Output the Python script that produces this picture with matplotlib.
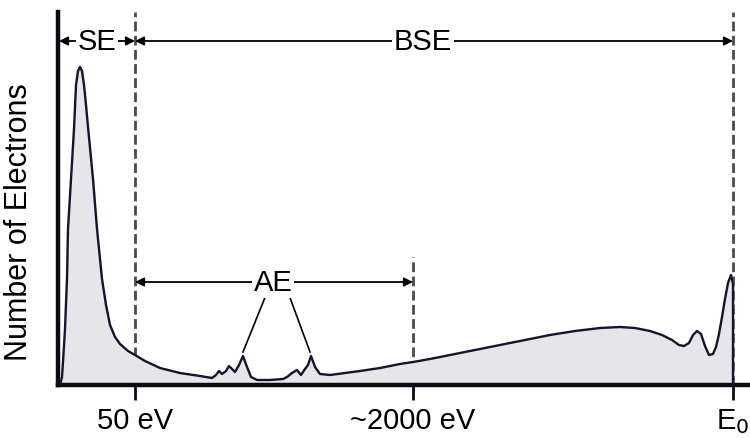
import numpy as np
import matplotlib.pyplot as plt

plt.rcParams['font.family'] = ['Liberation Sans', 'DejaVu Sans']

# Spectrum (energy position, relative count)
energy_pos = [60, 62, 63, 65, 67, 68, 71, 74, 76, 78, 80, 82, 84, 86, 88, 93, 97, 102, 106, 110, 115, 120, 128,
              135, 145, 160, 180, 200, 212, 216, 219, 222, 226, 229, 232, 235, 239, 243, 247, 251, 257,
              270, 283, 287, 292, 297, 301, 305, 308, 311, 315, 320, 330, 345, 360, 380, 400, 413, 430,
              450, 475, 500, 525, 550, 575, 600, 620, 635, 650, 662, 672, 679, 684, 689, 693, 697, 701,
              705, 709, 713, 716, 719, 722, 725, 728, 731, 733, 733]
counts = [0, 8, 23, 56, 106, 156, 206, 256, 300, 314, 318, 314, 300, 280, 258, 206, 156, 106, 80, 60, 48, 41, 34,
          30, 24, 17, 12, 9, 7, 10, 14, 11, 14, 19, 16, 13, 20, 29, 18, 8, 5,
          5, 6, 8, 12, 15, 10, 16, 20, 29, 18, 11, 10, 12, 14, 17, 21, 23, 26,
          30, 35, 40, 45, 50, 54, 57, 58, 57, 54, 50, 45, 40, 39, 42, 50, 54, 51,
          39, 30, 31, 38, 51, 68, 86, 102, 110, 101, 0]

tick_pos = [135, 413, 733]
tick_labels = ["50 eV", "~2000 eV", "E$_0$"]

fig = plt.figure(figsize=(7.5, 4.39), dpi=100)
ax = fig.add_axes([58/750, 53/439, 1 - 58/750, 373/439])
ax.set_xlim(58, 750)
ax.set_ylim(0, 373)

line_col = "#14142a"

# dashed region markers (behind the fill)
dash = (0, (3.5, 1.6))
ax.plot([135, 135], [0, 373], color="#4a4a4a", lw=2, ls=dash, zorder=1)
ax.plot([413, 413], [0, 128], color="#4a4a4a", lw=2, ls=dash, zorder=1)
ax.plot([733, 733], [0, 373], color="#4a4a4a", lw=2, ls=dash, zorder=1)

ax.fill_between(energy_pos, counts, 0, color="#e6e6ea", zorder=2)
ax.plot(energy_pos, counts, color=line_col, lw=1.7, zorder=3)

# range arrows
def span(x0, x1, y, label, xt):
    ax.annotate("", xy=(x1, y), xytext=(x0, y),
                arrowprops=dict(arrowstyle="<|-|>", lw=1.3, color="black",
                                shrinkA=0, shrinkB=0, mutation_scale=13))
    ax.text(xt, y, label, ha="center", va="center", fontsize=21,
            bbox=dict(fc="white", ec="none", pad=1.5), zorder=5)

span(59, 135, 344, "SE", 97)
span(135, 733, 344, "BSE", 423)
span(135, 413, 103, "AE", 273)

# pointers from AE to the Auger peaks
ax.plot([266, 243], [90, 33], color="black", lw=1.2, zorder=4)
ax.plot([289, 310], [90, 33], color="black", lw=1.2, zorder=4)

for s in ["top", "right"]:
    ax.spines[s].set_visible(False)
ax.spines["left"].set_linewidth(3.2)
ax.spines["bottom"].set_linewidth(3.2)
ax.spines["left"].set_color("#0a0a14")
ax.spines["bottom"].set_color("#0a0a14")

ax.set_yticks([])
ax.set_xticks(tick_pos)
ax.set_xticklabels(tick_labels)
ax.tick_params(axis="x", length=11, width=2, pad=4, labelsize=21, color="#0a0a14")
ax.set_ylabel("Number of Electrons", fontsize=22)
ax.yaxis.set_label_coords(-24/692, (386 - 222)/373)

fig.savefig("out.png", dpi=100)
